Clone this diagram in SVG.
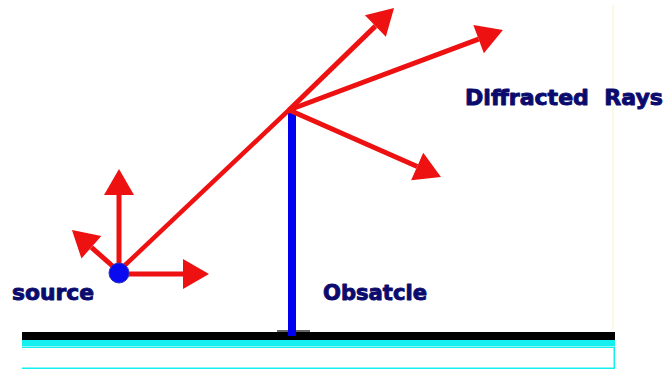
<svg xmlns="http://www.w3.org/2000/svg" width="665" height="370" viewBox="0 0 665 370">
  <style>
    .ray { stroke: #ee1111; stroke-width: 5; fill: none; marker-end: url(#head); }
    .ray-plain { stroke: #ee1111; stroke-width: 4.5; fill: none; }
    .label { font-family: "DejaVu Sans", "Verdana", sans-serif; font-weight: bold; fill: #0b0b6e; stroke: #0b0b6e; stroke-width: 0.9; stroke-linejoin: round; }
  </style>
  <defs>
    <marker id="head" markerUnits="userSpaceOnUse" markerWidth="26" markerHeight="30" refX="0" refY="15" orient="auto" overflow="visible">
      <path d="M0,0 L26,15 L0,30 z" fill="#ee1111"/>
    </marker>
  </defs>
  <rect width="665" height="370" fill="#ffffff"/>
  <line x1="613" y1="5" x2="613" y2="330" stroke="#faf6dc" stroke-width="1.5"/>

  <g id="ground">
    <rect x="277" y="330" width="33" height="2" fill="#666666"/>
    <rect x="22" y="332" width="593" height="8" fill="#000000"/>
    <rect x="22" y="340" width="593" height="6" fill="#14f0f0"/>
    <path d="M22,347.25 H614.25 V368.25 H22" fill="none" stroke="#14f0f0" stroke-width="1.5"/>
  </g>

  <g id="obstacle">
    <rect x="288" y="110" width="8" height="226" fill="#0000f0"/>
  </g>

  <g id="connectors">
    <line class="ray" x1="119" y1="268" x2="119" y2="195"/>
    <line class="ray" x1="117" y1="270" x2="91.4" y2="247.3"/>
    <line class="ray" x1="125" y1="274" x2="183" y2="274"/>
    <line class="ray-plain" x1="122" y1="268" x2="290" y2="109"/>
    <line class="ray" x1="289" y1="110" x2="375.4" y2="26.1"/>
    <line class="ray" x1="289" y1="110" x2="478.6" y2="39.1"/>
    <line class="ray" x1="289" y1="110" x2="417.2" y2="166.5"/>
  </g>

  <g id="source">
    <circle cx="119" cy="273" r="10" fill="#0a0af0" stroke="#3030c0" stroke-width="1"/>
    <text class="label" x="12" y="300" font-size="21" textLength="82" lengthAdjust="spacingAndGlyphs">source</text>
  </g>

  <g id="obstacle-label">
    <text class="label" x="323" y="300" font-size="21" textLength="104" lengthAdjust="spacingAndGlyphs">Obsatcle</text>
  </g>

  <g id="diffracted-label">
    <text class="label" x="465" y="105" font-size="21" textLength="198" lengthAdjust="spacingAndGlyphs" xml:space="preserve">Diffracted  Rays</text>
  </g>
</svg>
